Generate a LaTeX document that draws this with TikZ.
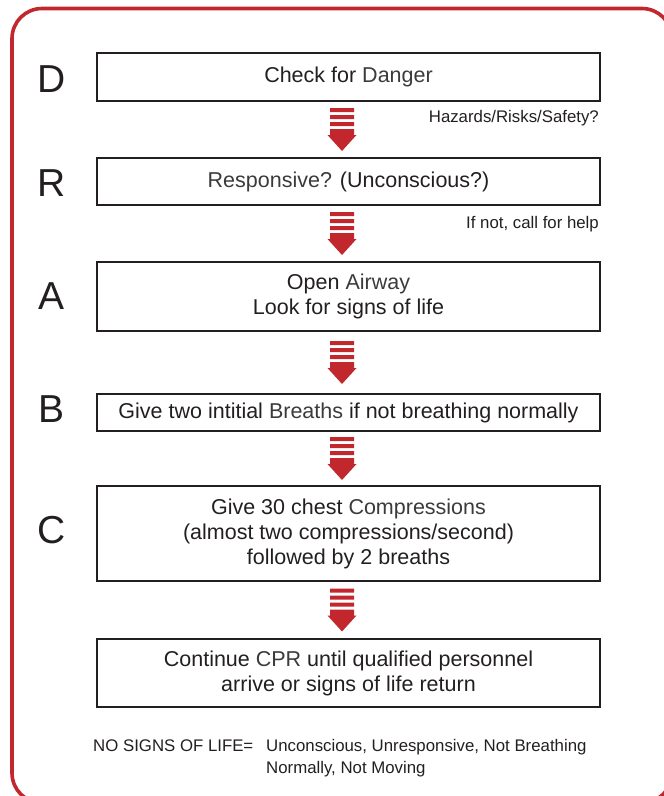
\documentclass[tikz,border=0pt]{standalone}
\usepackage{fontspec}
\setmainfont{Liberation Sans}
\usetikzlibrary{calc}
\definecolor{ink}{HTML}{231F20}
\definecolor{inklight}{HTML}{3C3A3B}
\definecolor{ared}{HTML}{C1272D}
\newcommand\lt[1]{{\color{inklight}#1}}
\newcommand\cprarrow[2]{%
  \coordinate (m#1#2) at ($(#1.south)!0.5!(#2.north)+(-6.5,0)$);
  \begin{scope}[shift={(m#1#2)}]
    \fill[ared] (-12,-21.5) rectangle (12,-17.5)
                (-12,-14.5) rectangle (12,-10.5)
                (-12,-7.5) rectangle (12,-3.5)
                (-12,-0.5) -- (12,-0.5) -- (12,5.5) -- (14.5,5.5) -- (0,21.5)
                -- (-14.5,5.5) -- (-12,5.5) -- cycle;
  \end{scope}}
\begin{document}
\begin{tikzpicture}[x=1pt,y=-1pt,
  stepbox/.style={draw=ink, line width=2.2pt, minimum width=503pt, inner sep=0pt,
    align=center, text=ink, font=\fontsize{21.5}{25}\selectfont},
  letter/.style={text=ink, font=\fontsize{39}{39}\selectfont, inner sep=0pt},
  note/.style={text=ink, font=\fontsize{16.8}{22}\selectfont, inner sep=0pt}]
  \useasboundingbox (0,0) rectangle (664,796);
  \begin{scope}
    \clip (0,0) rectangle (664,796);
    \draw[ared, line width=3.6pt, rounded corners=30pt] (12,8.5) rectangle (672,803);
  \end{scope}

  % step boxes
  \node[stepbox, minimum height=48pt] (d) at (348.5,77) {Check for \lt{Danger}};
  \node[stepbox, minimum height=47pt] (r) at (348.5,181.5) {\lt{Responsive?} (Unconscious?)};
  \node[stepbox, minimum height=69pt] (a) at (348.5,296.5) {Open \lt{Airway}\\Look for signs of life};
  \node[stepbox, minimum height=37pt] (b) at (348.5,412.5) {Give two intitial \lt{Breaths} if not breathing normally};
  \node[stepbox, minimum height=95pt] (c) at (348.5,533.5) {Give 30 chest \lt{Compressions}\\(almost two compressions/second)\\followed by 2 breaths};
  \node[stepbox, minimum height=68pt] (e) at (348.5,673) {Continue \lt{CPR} until qualified personnel\\arrive or signs of life return};

  % letters
  \node[letter] (ld) at (52,79) {D};
  \node[letter] (lr) at (52,183) {R};
  \node[letter] (la) at (52,296) {A};
  \node[letter] (lb) at (52,409) {B};
  \node[letter] (lc) at (52,530) {C};

  % arrows
  \cprarrow{d}{r}
  \cprarrow{r}{a}
  \cprarrow{a}{b}
  \cprarrow{b}{c}
  \cprarrow{c}{e}

  % notes
  \node[note, anchor=east] (hz) at (599,118) {Hazards/Risks/Safety?};
  \node[note, anchor=east] (hl) at (599,224) {If not, call for help};
  \node[note, anchor=base west] (ns) at (93,751) {NO SIGNS OF LIFE=};
  \node[note, anchor=base west] (n1) at (266,751) {Unconscious, Unresponsive, Not Breathing};
  \node[note, anchor=base west] (n2) at (266,773) {Normally, Not Moving};
\end{tikzpicture}
\end{document}
